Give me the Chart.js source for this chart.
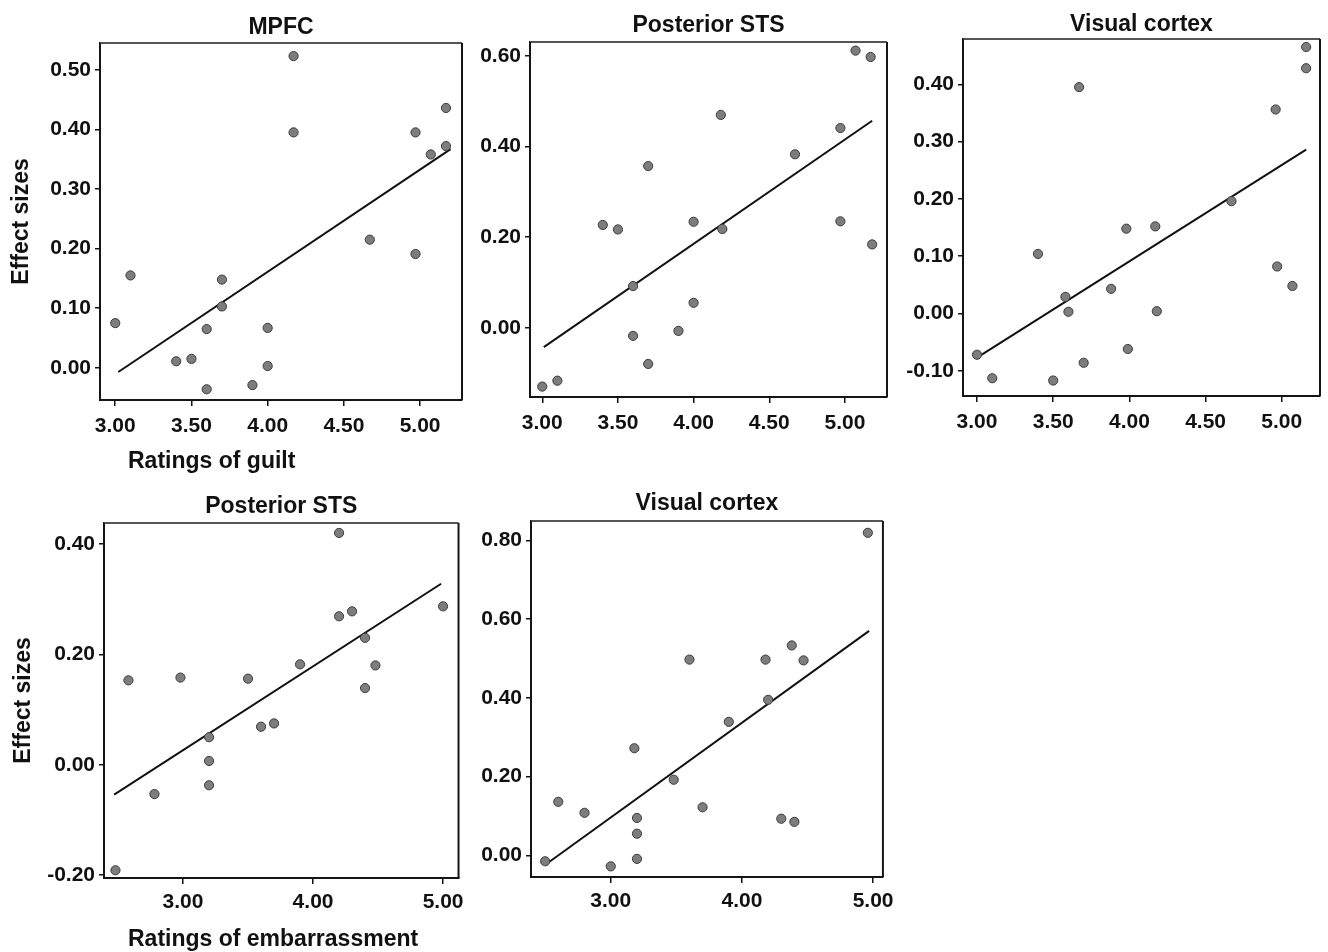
<!DOCTYPE html>
<html>
<head>
<meta charset="utf-8">
<script src="https://cdn.jsdelivr.net/npm/chart.js@4.4.1/dist/chart.umd.min.js"></script>
<style>
  html, body { margin: 0; padding: 0; background: #ffffff; }
  body { width: 1328px; height: 952px; position: relative; overflow: hidden; font-family: "Liberation Sans", Arial, sans-serif; }
  canvas { position: absolute; }
  .xlab { position: absolute; font: bold 23px "Liberation Sans", Arial, sans-serif; line-height: 23px; color: #111; white-space: nowrap; }
</style>
</head>
<body>
<canvas id="p1" width="470" height="450" style="left:0px;top:0px"></canvas>
<canvas id="p2" width="430" height="450" style="left:470px;top:0px"></canvas>
<canvas id="p3" width="428" height="450" style="left:900px;top:0px"></canvas>
<canvas id="p4" width="470" height="482" style="left:0px;top:470px"></canvas>
<canvas id="p5" width="430" height="482" style="left:470px;top:470px"></canvas>
<div class="xlab" style="left:128px;top:449px">Ratings of guilt</div>
<div class="xlab" style="left:128px;top:927px">Ratings of embarrassment</div>
<script>
// ---------- Panel titles ----------
const titles = ["MPFC", "Posterior STS", "Visual cortex", "Posterior STS", "Visual cortex"];
const yAxisTitle = "Effect sizes";

// ---------- Tick labels ----------
const guiltXTicks = [3.0, 3.5, 4.0, 4.5, 5.0];
const embXTicks = [3.0, 4.0, 5.0];
const mpfcYTicks = [0.0, 0.1, 0.2, 0.3, 0.4, 0.5];
const stsGuiltYTicks = [0.0, 0.2, 0.4, 0.6];
const visGuiltYTicks = [-0.1, 0.0, 0.1, 0.2, 0.3, 0.4];
const stsEmbYTicks = [-0.2, 0.0, 0.2, 0.4];
const visEmbYTicks = [0.0, 0.2, 0.4, 0.6, 0.8];

// ---------- Panel 1: MPFC vs guilt ----------
const mpfcX = [3.00, 3.10, 3.40, 3.50, 3.60, 3.60, 3.70, 3.70, 3.90, 4.00, 4.00, 4.17, 4.17, 4.67, 4.97, 4.97, 5.07, 5.17, 5.17];
const mpfcY = [0.075, 0.155, 0.011, 0.015, 0.065, -0.036, 0.148, 0.103, -0.029, 0.067, 0.003, 0.523, 0.395, 0.215, 0.395, 0.191, 0.358, 0.436, 0.372];
const mpfcFitX = [3.02, 5.20];
const mpfcFitY = [-0.007, 0.367];

// ---------- Panel 2: Posterior STS vs guilt ----------
const stsGuiltX = [3.00, 3.10, 3.40, 3.50, 3.60, 3.60, 3.70, 3.70, 3.90, 4.00, 4.00, 4.18, 4.19, 4.67, 4.97, 4.97, 5.07, 5.17, 5.18];
const stsGuiltY = [-0.130, -0.117, 0.227, 0.217, 0.092, -0.018, 0.357, -0.080, -0.007, 0.234, 0.055, 0.470, 0.218, 0.383, 0.441, 0.235, 0.612, 0.598, 0.184];
const stsGuiltFitX = [3.01, 5.18];
const stsGuiltFitY = [-0.043, 0.457];

// ---------- Panel 3: Visual cortex vs guilt ----------
const visGuiltX = [3.00, 3.10, 3.40, 3.50, 3.58, 3.60, 3.67, 3.70, 3.88, 3.98, 3.99, 4.17, 4.18, 4.67, 4.96, 4.97, 5.07, 5.16, 5.16];
const visGuiltY = [-0.072, -0.113, 0.104, -0.117, 0.029, 0.003, 0.395, -0.086, 0.043, 0.148, -0.062, 0.152, 0.004, 0.196, 0.356, 0.082, 0.048, 0.465, 0.428];
const visGuiltFitX = [3.00, 5.16];
const visGuiltFitY = [-0.077, 0.286];

// ---------- Panel 4: Posterior STS vs embarrassment ----------
const stsEmbX = [2.48, 2.58, 2.78, 2.98, 3.20, 3.20, 3.20, 3.50, 3.60, 3.70, 3.90, 4.20, 4.20, 4.30, 4.40, 4.40, 4.48, 5.00];
const stsEmbY = [-0.191, 0.153, -0.053, 0.158, 0.050, 0.007, -0.037, 0.156, 0.069, 0.075, 0.182, 0.420, 0.269, 0.278, 0.230, 0.139, 0.180, 0.287];
const stsEmbFitX = [2.47, 4.985];
const stsEmbFitY = [-0.054, 0.328];

// ---------- Panel 5: Visual cortex vs embarrassment ----------
const visEmbX = [2.50, 2.60, 2.80, 3.00, 3.18, 3.20, 3.20, 3.20, 3.48, 3.60, 3.70, 3.90, 4.18, 4.20, 4.30, 4.38, 4.40, 4.47, 4.96];
const visEmbY = [-0.015, 0.136, 0.108, -0.028, 0.272, 0.095, 0.055, -0.009, 0.192, 0.497, 0.122, 0.339, 0.497, 0.395, 0.093, 0.533, 0.085, 0.495, 0.819];
const visEmbFitX = [2.53, 4.97];
const visEmbFitY = [-0.017, 0.570];

const FONT = '"Liberation Sans", Arial, sans-serif';
const zip = (xs, ys) => xs.map((x, i) => ({ x: x, y: ys[i] }));

const framePlugin = {
  id: 'frame',
  afterDatasetsDraw(chart) {
    const a = chart.chartArea, ctx = chart.ctx;
    ctx.save();
    ctx.lineWidth = 2;
    ctx.strokeStyle = '#555';
    ctx.beginPath(); ctx.moveTo(a.left, a.top); ctx.lineTo(a.right, a.top); ctx.stroke();
    ctx.strokeStyle = '#151515';
    ctx.beginPath(); ctx.moveTo(a.right, a.top); ctx.lineTo(a.right, a.bottom); ctx.stroke();
    ctx.beginPath(); ctx.moveTo(a.left, a.top); ctx.lineTo(a.left, a.bottom); ctx.lineTo(a.right, a.bottom); ctx.stroke();
    ctx.restore();
  }
};

function makePanel(id, p) {
  const ctx = document.getElementById(id).getContext('2d');
  return new Chart(ctx, {
    type: 'scatter',
    data: {
      datasets: [
        {
          data: zip(p.xs, p.ys),
          backgroundColor: '#7d7d7d',
          borderColor: '#3c3c3c',
          borderWidth: 1,
          pointRadius: 4.6,
          clip: false,
          order: 1
        },
        {
          type: 'line',
          data: zip(p.fitX, p.fitY),
          borderColor: '#111',
          borderWidth: 2,
          pointRadius: 0,
          fill: false,
          showLine: true,
          order: 2
        }
      ]
    },
    options: {
      responsive: false,
      animation: false,
      devicePixelRatio: 1,
      layout: { padding: { left: 0, top: 0, right: p.padRight, bottom: 0 } },
      plugins: {
        legend: { display: false },
        tooltip: { enabled: false },
        title: {
          display: true,
          text: p.title,
          fullSize: false,
          color: '#111',
          font: { family: FONT, size: 23, weight: 'bold' },
          padding: { top: p.titleTop, bottom: p.titleBottom }
        }
      },
      scales: {
        x: {
          type: 'linear',
          min: p.xMin, max: p.xMax,
          afterBuildTicks: (axis) => { axis.ticks = p.xTicks.map(v => ({ value: v })); },
          afterFit: (axis) => { axis.height = p.xAxisH; },
          grid: { display: true, drawOnChartArea: false, drawTicks: true, tickLength: 6, color: '#111', lineWidth: 1.5 },
          border: { display: true, color: '#151515', width: 2 },
          ticks: {
            color: '#111',
            padding: p.xTickPad,
            maxRotation: 0,
            autoSkip: false,
            font: { family: FONT, size: 21, weight: 'bold' },
            callback: (v) => Number(v).toFixed(2)
          }
        },
        y: {
          type: 'linear',
          min: p.yMin, max: p.yMax,
          afterBuildTicks: (axis) => { axis.ticks = p.yTicks.map(v => ({ value: v })); },
          afterFit: (axis) => { axis.width = p.yAxisW; },
          grid: { display: true, drawOnChartArea: false, drawTicks: true, tickLength: 5, color: '#111', lineWidth: 1.5 },
          border: { display: true, color: '#151515', width: 2 },
          title: {
            display: !!p.yTitle,
            text: p.yTitle || '',
            color: '#111',
            font: { family: FONT, size: 23, weight: 'bold' },
            padding: { top: p.yTitlePad || 0, bottom: 0 }
          },
          ticks: {
            color: '#111',
            padding: 4,
            autoSkip: false,
            font: { family: FONT, size: 21, weight: 'bold' },
            callback: (v) => Number(v).toFixed(2)
          }
        }
      }
    },
    plugins: [framePlugin]
  });
}

// title box height = 23 * 1.2 = 27.6
makePanel('p1', {
  title: titles[0], xs: mpfcX, ys: mpfcY, fitX: mpfcFitX, fitY: mpfcFitY,
  xMin: 2.90, xMax: 5.275, yMin: -0.054, yMax: 0.545,
  xTicks: guiltXTicks, yTicks: mpfcYTicks,
  yAxisW: 100, xAxisH: 50, padRight: 8, titleTop: 13.5, titleBottom: 1.9, xTickPad: 8,
  yTitle: yAxisTitle, yTitlePad: 8
});
makePanel('p2', {
  title: titles[1], xs: stsGuiltX, ys: stsGuiltY, fitX: stsGuiltFitX, fitY: stsGuiltFitY,
  xMin: 2.919, xMax: 5.278, yMin: -0.153, yMax: 0.631,
  xTicks: guiltXTicks, yTicks: stsGuiltYTicks,
  yAxisW: 60, xAxisH: 53, padRight: 13, titleTop: 11.5, titleBottom: 2.9, xTickPad: 8
});
makePanel('p3', {
  title: titles[2], xs: visGuiltX, ys: visGuiltY, fitX: visGuiltFitX, fitY: visGuiltFitY,
  xMin: 2.908, xMax: 5.251, yMin: -0.144, yMax: 0.479,
  xTicks: guiltXTicks, yTicks: visGuiltYTicks,
  yAxisW: 63, xAxisH: 54, padRight: 8, titleTop: 10.5, titleBottom: 0.9, xTickPad: 8
});
makePanel('p4', {
  title: titles[3], xs: stsEmbX, ys: stsEmbY, fitX: stsEmbFitX, fitY: stsEmbFitY,
  xMin: 2.392, xMax: 5.119, yMin: -0.205, yMax: 0.438,
  xTicks: embXTicks, yTicks: stsEmbYTicks,
  yAxisW: 104, xAxisH: 74, padRight: 6, titleTop: 22.5, titleBottom: 2.9, xTickPad: 6,
  yTitle: yAxisTitle, yTitlePad: 10
});
makePanel('p5', {
  title: titles[4], xs: visEmbX, ys: visEmbY, fitX: visEmbFitX, fitY: visEmbFitY,
  xMin: 2.392, xMax: 5.075, yMin: -0.055, yMax: 0.849,
  xTicks: embXTicks, yTicks: visEmbYTicks,
  yAxisW: 61, xAxisH: 75, padRight: 10, titleTop: 19.5, titleBottom: 3.9, xTickPad: 6
});
</script>
</body>
</html>
